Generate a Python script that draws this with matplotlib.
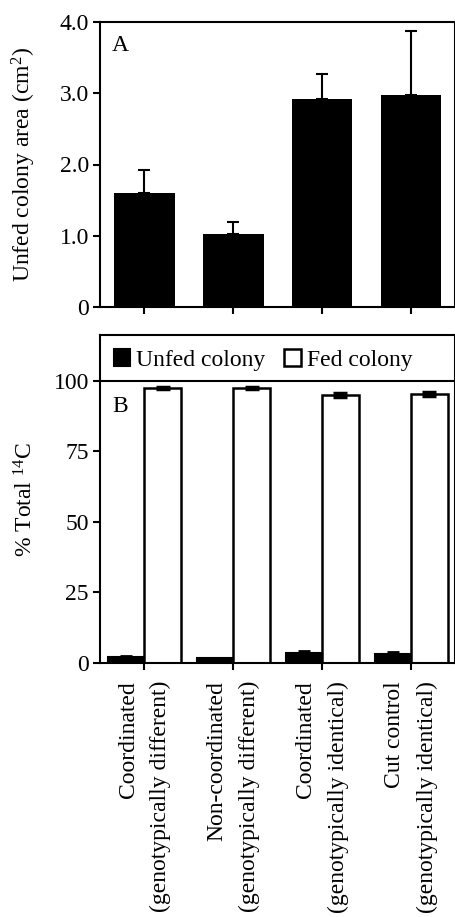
import matplotlib as mpl
import matplotlib.pyplot as plt
import numpy as np

# data
groups = ['Coordinated\n(genotypically different)',
          'Non-coordinated\n(genotypically different)',
          'Coordinated\n(genotypically identical)',
          'Cut control\n(genotypically identical)']
area_mean = [1.60, 1.02, 2.92, 2.98]
area_err = [0.32, 0.18, 0.35, 0.89]
unfed_pct = [2.0, 1.6, 3.6, 3.2]
unfed_err = [0.4, 0.2, 0.8, 0.7]
fed_pct = [97.5, 97.4, 95.0, 95.4]
fed_err = [0.5, 0.4, 0.8, 0.8]

# font settings
mpl.rcParams['font.family'] = ['Liberation Serif', 'DejaVu Serif']
mpl.rcParams['mathtext.default'] = 'regular'
mpl.rcParams['font.size'] = 17
mpl.rcParams['axes.linewidth'] = 1.5

fig = plt.figure(figsize=(4.56, 9.17), dpi=100)
ax1 = fig.add_axes([100 / 456, 1 - 307 / 917, 355.5 / 456, 285 / 917])
ax2 = fig.add_axes([100 / 456, 1 - 663 / 917, 355.5 / 456, 328 / 917])

x = np.arange(len(groups))

# panel A
ax1.bar(x, area_mean, width=0.68, color='black')
ax1.errorbar(x, area_mean, yerr=[np.zeros(4), area_err], fmt='none',
             ecolor='black', elinewidth=1.5, capsize=4, capthick=1.5)
ax1.set_xlim(-0.5, 3.5)
ax1.set_ylim(0, 4.0)
ax1.set_yticks([0, 1, 2, 3, 4])
ax1.set_yticklabels(['0', '1.0', '2.0', '3.0', '4.0'])
ax1.set_xticks(x)
ax1.set_xticklabels([])
ax1.set_ylabel('Unfed colony area (cm$^2$)')
ax1.text(0.034, 0.955, 'A', transform=ax1.transAxes, va='top', ha='left')

# panel B
w = 0.41
ax2.bar(x - w / 2, unfed_pct, width=w, color='black', edgecolor='black',
        linewidth=1.5, label='Unfed colony')
ax2.bar(x + w / 2, fed_pct, width=w, color='white', edgecolor='black',
        linewidth=1.8, label='Fed colony')
ax2.errorbar(x - w / 2, unfed_pct, yerr=unfed_err, fmt='none',
             ecolor='black', elinewidth=2, capsize=4, capthick=2)
ax2.errorbar(x + w / 2, fed_pct, yerr=fed_err, fmt='none',
             ecolor='black', elinewidth=3, capsize=5, capthick=2.5)
ax2.axhline(100, color='black', lw=1.5)
ax2.set_xlim(-0.5, 3.5)
ax2.set_ylim(0, 116.3)
ax2.set_yticks([0, 25, 50, 75, 100])
ax2.set_xticks(x)
ax2.set_xticklabels(groups, rotation=90, ma='right', linespacing=1.7)
ax2.set_ylabel('% Total $^{14}$C')
ax2.text(0.034, 0.815, 'B', transform=ax2.transAxes, va='top', ha='left')
ax2.legend(loc='center left', bbox_to_anchor=(0.005, 0.924), ncol=2,
           frameon=False, borderaxespad=0, borderpad=0.5,
           handlelength=0.7, handleheight=0.7, handletextpad=0.25,
           columnspacing=0.8)

for ax in (ax1, ax2):
    ax.tick_params(direction='out', length=5, width=1.5, pad=3)
ax2.tick_params(axis='x', pad=8)

ax1.yaxis.set_label_coords(-0.175, 0.5)
ax2.yaxis.set_label_coords(-0.175, 0.5)

fig.savefig('out.png', dpi=100)
